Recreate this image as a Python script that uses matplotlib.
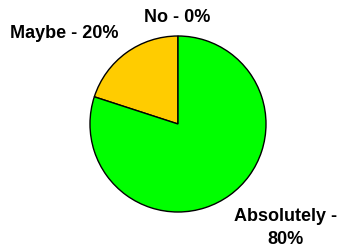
import matplotlib
matplotlib.use("Agg")
import matplotlib.pyplot as plt

categories = ["No", "Maybe", "Absolutely"]
values = [0, 20, 80]
colors = ["#3366FF", "#FFCC00", "#00FF00"]
label_texts = ["No - 0%", "Maybe - 20%", "Absolutely -\n80%"]

fig = plt.figure(figsize=(3.42, 2.5), dpi=100)
ax = fig.add_axes([0, 0, 1, 1])
ax.set_xlim(0, 342)
ax.set_ylim(0, 250)
ax.set_aspect("equal")
ax.axis("off")

ax.pie(values, colors=colors, startangle=90, counterclock=True,
       center=(178, 126), radius=88,
       wedgeprops=dict(edgecolor="black", linewidth=1))
ax.set_xlim(0, 342)
ax.set_ylim(0, 250)

label_pos = [(177, 233), (64.5, 217), (285.5, 22)]
for txt, (x, y) in zip(label_texts, label_pos):
    ax.text(x, y, txt, ha="center", va="center", fontsize=13,
            fontweight="bold", family="Liberation Sans", linespacing=1.4)

fig.savefig("out.png", dpi=100)
